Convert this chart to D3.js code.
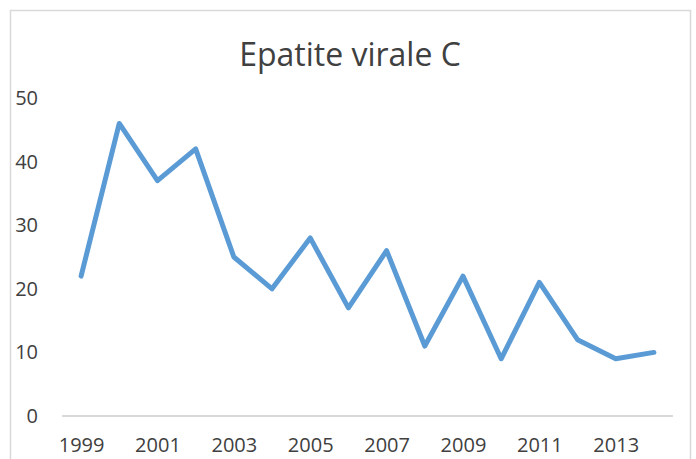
<!DOCTYPE html>
<html>
<head>
<meta charset="utf-8">
<script src="https://cdn.jsdelivr.net/npm/d3@7"></script>
<style>
  body { margin: 0; background: #fff; }
  text { font-family: "Open Sans", sans-serif; fill: #404040; }
</style>
</head>
<body>
<div id="chart"></div>
<script>
const years = [1999, 2000, 2001, 2002, 2003, 2004, 2005, 2006, 2007, 2008, 2009, 2010, 2011, 2012, 2013, 2014]
const cases = [22, 46, 37, 42, 25, 20, 28, 17, 26, 11, 22, 9, 21, 12, 9, 10]
const yTicks = [0, 10, 20, 30, 40, 50]
const xLabels = [1999, 2001, 2003, 2005, 2007, 2009, 2011, 2013]

const width = 696
const height = 459
const marginLeft = 62
const marginRight = 23
const yTop = 98
const yBottom = 416

const svg = d3.select("#chart").append("svg")
  .attr("width", width)
  .attr("height", height)

// chart frame
svg.append("rect")
  .attr("x", 10.5).attr("y", 10.5)
  .attr("width", 680).attr("height", 470)
  .attr("fill", "#fff")
  .attr("stroke", "#d9d9d9")
  .attr("stroke-width", 1.5)

const x = d3.scalePoint()
  .domain(years)
  .range([marginLeft, width - marginRight])
  .padding(0.5)

const y = d3.scaleLinear()
  .domain([0, 50])
  .range([yBottom, yTop])

// y labels, no axis line
const yAxis = svg.append("g")
  .attr("transform", "translate(38,0)")
  .call(d3.axisLeft(y).tickValues(yTicks).tickSize(0).tickPadding(0))
yAxis.select(".domain").remove()
yAxis.selectAll("text").attr("font-size", 20).attr("font-family", null)

// x axis
const xAxis = svg.append("g")
  .attr("transform", `translate(0,${yBottom})`)
  .call(d3.axisBottom(x).tickValues(xLabels).tickSize(0).tickPadding(22))
xAxis.select(".domain")
  .attr("d", `M${marginLeft},0H${width - marginRight}`)
  .attr("stroke", "#d9d9d9")
  .attr("stroke-width", 2)
xAxis.selectAll("text").attr("font-size", 20).attr("font-family", null)

svg.append("path")
  .datum(years.map((yr, i) => ({ year: yr, value: cases[i] })))
  .attr("fill", "none")
  .attr("stroke", "#5b9bd5")
  .attr("stroke-width", 5)
  .attr("stroke-linejoin", "round")
  .attr("stroke-linecap", "round")
  .attr("d", d3.line().x(d => x(d.year)).y(d => y(d.value)))

svg.append("text")
  .attr("x", 350)
  .attr("y", 66)
  .attr("text-anchor", "middle")
  .attr("font-size", 32)
  .text("Epatite virale C")
</script>
</body>
</html>
